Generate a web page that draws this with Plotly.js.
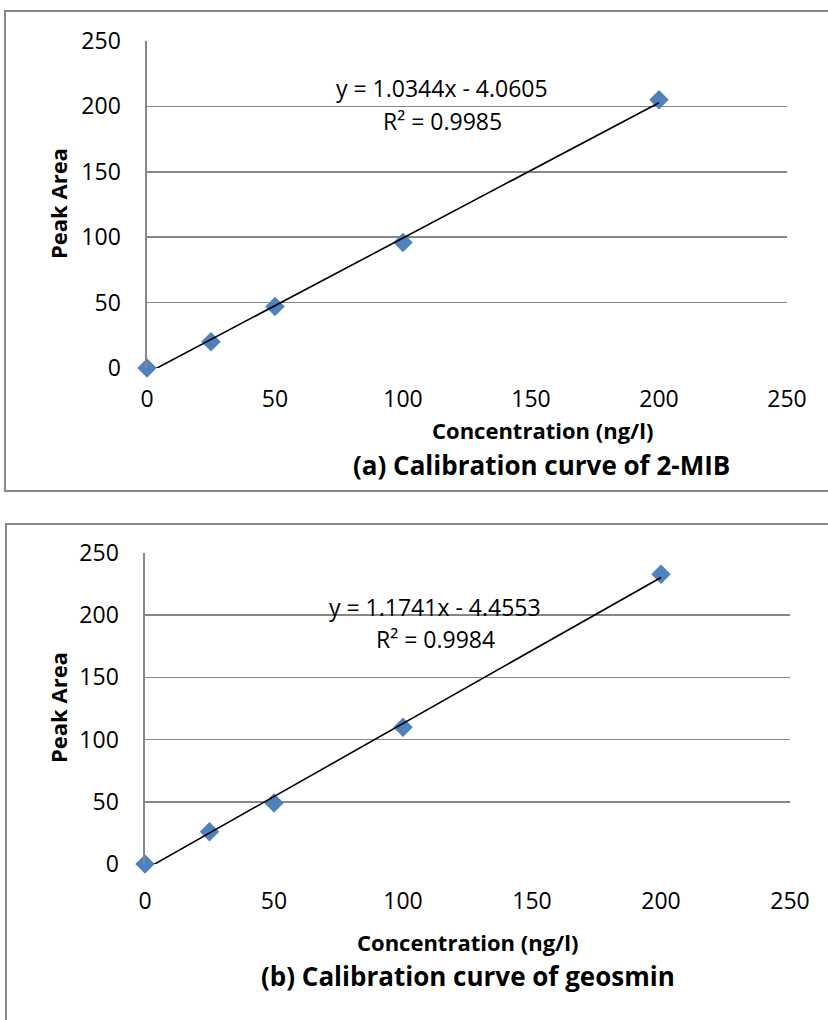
<!DOCTYPE html>
<html>
<head>
<meta charset="utf-8">
<script src="https://cdn.plot.ly/plotly-3.0.1.min.js"></script>
<style>html,body{margin:0;padding:0;background:#fff;}#chart{width:828px;height:1020px;}</style>
</head>
<body>
<div id="chart"></div>
<script>
// ---- data ----
const concA = [0, 25, 50, 100, 200];
const areaA = [0, 20, 47, 96, 205];
const slopeA = 1.0344, interceptA = -4.0605, r2A = "0.9985";

const concB = [0, 25, 50, 100, 200];
const areaB = [0, 26, 49, 110, 233];
const slopeB = 1.1741, interceptB = -4.4553, r2B = "0.9984";

const trendX = [0, 200];
const tickVals = [0, 50, 100, 150, 200, 250];

const xTitle = "Concentration (ng/l)";
const yTitle = "Peak Area";
const titleA = "(a) Calibration curve of 2-MIB";
const titleB = "(b) Calibration curve of geosmin";

// ---- layout helpers ----
const W = 828, H = 1020;
const px = x => x / W;
const py = y => 1 - y / H;
const FONT = "'Open Sans', 'Noto Sans', sans-serif";
const GRID = "#878787";
const MARK = "#4F81BD";

function fmt(v){ return (v<0? " - " : " + ") + Math.abs(v).toFixed(4); }

const traces = [
  {x: concA, y: areaA, xaxis:"x", yaxis:"y", type:"scatter", mode:"markers",
   marker:{symbol:"diamond", size:15, color:MARK}, cliponaxis:false, hoverinfo:"x+y"},
  {x: trendX, y: trendX.map(v => slopeA*v + interceptA), xaxis:"x", yaxis:"y", type:"scatter", mode:"lines",
   line:{color:"#000", width:1.6}, hoverinfo:"skip"},
  {x: concB, y: areaB, xaxis:"x2", yaxis:"y2", type:"scatter", mode:"markers",
   marker:{symbol:"diamond", size:15, color:MARK}, cliponaxis:false, hoverinfo:"x+y"},
  {x: trendX, y: trendX.map(v => slopeB*v + interceptB), xaxis:"x2", yaxis:"y2", type:"scatter", mode:"lines",
   line:{color:"#000", width:1.6}, hoverinfo:"skip"}
];

function xAx(domain, anchor, standoff){
  return {domain: domain, anchor: anchor, range:[0,250], tickvals: tickVals, showgrid:false,
    zeroline:false, showline:false, ticks:"", ticklabelstandoff:standoff,
    tickfont:{family:FONT, size:23, color:"#000"}, fixedrange:true};
}
function yAx(domain, anchor){
  return {domain: domain, anchor: anchor, range:[0,250], tickvals: tickVals, showgrid:true,
    gridcolor:GRID, gridwidth:1.6, zeroline:false, showline:true, linecolor:GRID, linewidth:1.6,
    ticks:"", ticklabelstandoff:20, tickfont:{family:FONT, size:23, color:"#000"}, fixedrange:true};
}

function ann(text, x, y, size, bold, angle){
  return {text: bold ? "<b>"+text+"</b>" : text, xref:"paper", yref:"paper", x: px(x), y: py(y),
    xanchor:"center", yanchor:"middle", showarrow:false, textangle: angle || 0,
    font:{family:FONT, size:size, color:"#000"}};
}

const layout = {
  width: W, height: H,
  margin:{l:0, r:0, t:0, b:0},
  paper_bgcolor:"#fff", plot_bgcolor:"rgba(0,0,0,0)",
  showlegend:false,
  xaxis: xAx([px(147), px(787)], "y", 15),
  yaxis: yAx([py(368), py(41)], "x"),
  xaxis2: xAx([px(145), px(790)], "y2", 21),
  yaxis2: yAx([py(864), py(553)], "x2"),
  shapes: [
    {type:"rect", xref:"paper", yref:"paper", x0:px(5), x1:px(840), y0:py(491), y1:py(11),
     line:{color:GRID, width:2}, layer:"below"},
    {type:"rect", xref:"paper", yref:"paper", x0:px(6), x1:px(840), y0:py(1040), y1:py(524),
     line:{color:GRID, width:2}, layer:"below"}
  ],
  annotations: [
    ann("y = " + slopeA + "x" + fmt(interceptA), 442, 88, 23, false),
    ann("R² = " + r2A, 442, 121, 23, false),
    ann(yTitle, 58, 204, 22, true, -90),
    ann(xTitle, 542, 430, 22, true),
    ann(titleA, 541, 465, 26, true),
    ann("y = " + slopeB + "x" + fmt(interceptB), 435, 607, 23, false),
    ann("R² = " + r2B, 435, 639, 23, false),
    ann(yTitle, 58, 708, 22, true, -90),
    ann(xTitle, 468, 942, 22, true),
    ann(titleB, 468, 976, 26, true)
  ]
};

Plotly.newPlot("chart", traces, layout, {displayModeBar:false, staticPlot:true});
</script>
</body>
</html>
